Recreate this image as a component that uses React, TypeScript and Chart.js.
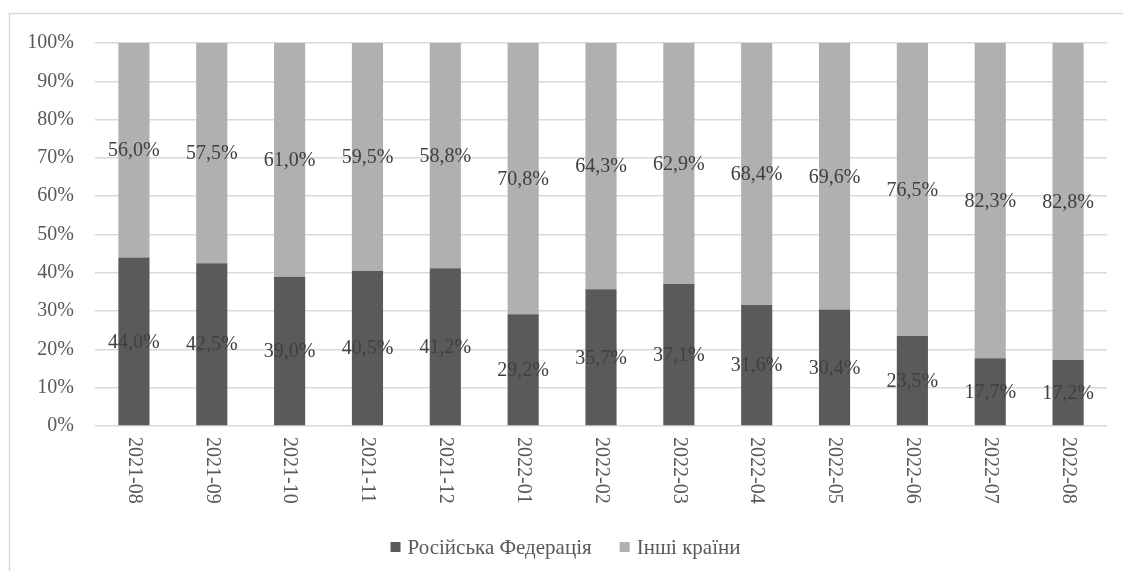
import React, { useEffect, useRef } from "react";
import { Chart, registerables } from "chart.js";

Chart.register(...registerables);

const categories = [
  "2021-08", "2021-09", "2021-10", "2021-11", "2021-12", "2022-01", "2022-02",
  "2022-03", "2022-04", "2022-05", "2022-06", "2022-07", "2022-08",
];
const russiaValues = [44.0, 42.5, 39.0, 40.5, 41.2, 29.2, 35.7, 37.1, 31.6, 30.4, 23.5, 17.7, 17.2];
const otherValues = [56.0, 57.5, 61.0, 59.5, 58.8, 70.8, 64.3, 62.9, 68.4, 69.6, 76.5, 82.3, 82.8];
const seriesNames = ["Російська Федерація", "Інші країни"];
const seriesColors = ["#5a5a5a", "#b0b0b0"];

const FONT = "'Liberation Serif', 'Times New Roman', serif";
const fmt = (v: number) => v.toFixed(1).replace(".", ",") + "%";

const decorPlugin = {
  id: "decor",
  beforeDraw(chart: any) {
    const ctx = chart.ctx;
    ctx.save();
    ctx.strokeStyle = "#d9d9d9";
    ctx.lineWidth = 1.5;
    ctx.beginPath();
    ctx.moveTo(1.5, chart.height + 10);
    ctx.lineTo(1.5, 5.5);
    ctx.lineTo(chart.width + 10, 5.5);
    ctx.stroke();
    ctx.restore();
  },
  afterDraw(chart: any) {
    const ctx = chart.ctx;
    ctx.save();
    // value labels
    ctx.font = `20px ${FONT}`;
    ctx.fillStyle = "#404040";
    ctx.textAlign = "center";
    ctx.textBaseline = "middle";
    chart.data.datasets.forEach((ds: any, di: number) => {
      const meta = chart.getDatasetMeta(di);
      meta.data.forEach((el: any, i: number) => {
        const y = (el.y + el.base) / 2;
        ctx.fillText(fmt(ds.data[i]), el.x, y + 1);
      });
    });
    // x labels rotated +90
    const xs = chart.scales.x;
    ctx.fillStyle = "#595959";
    ctx.textAlign = "left";
    ctx.textBaseline = "middle";
    chart.data.labels.forEach((lab: string, i: number) => {
      const x = xs.getPixelForTick(i);
      ctx.save();
      ctx.translate(x, chart.chartArea.bottom + 11);
      ctx.rotate(Math.PI / 2);
      ctx.fillText(lab, 0, 0);
      ctx.restore();
    });
    // legend
    ctx.font = `21px ${FONT}`;
    ctx.textAlign = "left";
    ctx.textBaseline = "middle";
    const ly = 539;
    const box = 10;
    const gapText = 7;
    const gapItem = 28;
    const widths = chart.data.datasets.map((ds: any) => box + gapText + ctx.measureText(ds.label).width);
    const total = widths.reduce((a: number, b: number) => a + b, 0) + gapItem * (widths.length - 1);
    let lx = (chart.width - total) / 2;
    chart.data.datasets.forEach((ds: any, di: number) => {
      ctx.fillStyle = ds.backgroundColor;
      ctx.fillRect(lx, ly - box / 2, box, box);
      ctx.fillStyle = "#595959";
      ctx.fillText(ds.label, lx + box + gapText, ly + 1);
      lx += widths[di] + gapItem;
    });
    ctx.restore();
  },
};

export default function App() {
  const ref = useRef<HTMLCanvasElement>(null);
  useEffect(() => {
    const chart = new Chart(ref.current!, {
      type: "bar",
      data: {
        labels: categories,
        datasets: [
          { label: seriesNames[0], data: russiaValues, backgroundColor: seriesColors[0], barPercentage: 0.4, categoryPercentage: 1 },
          { label: seriesNames[1], data: otherValues, backgroundColor: seriesColors[1], barPercentage: 0.4, categoryPercentage: 1 },
        ],
      },
      options: {
        animation: false,
        responsive: true,
        maintainAspectRatio: false,
        layout: { padding: { top: 35, right: 16, left: 0, bottom: 0 } },
        plugins: { legend: { display: false }, tooltip: { enabled: false } },
        scales: {
          x: {
            stacked: true,
            grid: { display: false },
            border: { display: false },
            ticks: { display: false },
            afterFit: (s: any) => { s.height = 145; },
          },
          y: {
            stacked: true,
            min: 0,
            max: 100,
            grid: { color: "#d9d9d9", lineWidth: 1.5, drawTicks: false },
            border: { display: false },
            ticks: {
              stepSize: 10,
              padding: 21,
              color: "#595959",
              font: { family: FONT, size: 20 },
              callback: (v: any) => v + "%",
            },
            afterFit: (s: any) => { s.width = 87; },
          },
        },
      },
      plugins: [decorPlugin],
    });
    return () => chart.destroy();
  }, []);
  return (
    <div style={{ position: "absolute", left: 8, top: 8, width: 1115, height: 563 }}>
      <canvas ref={ref} />
    </div>
  );
}
